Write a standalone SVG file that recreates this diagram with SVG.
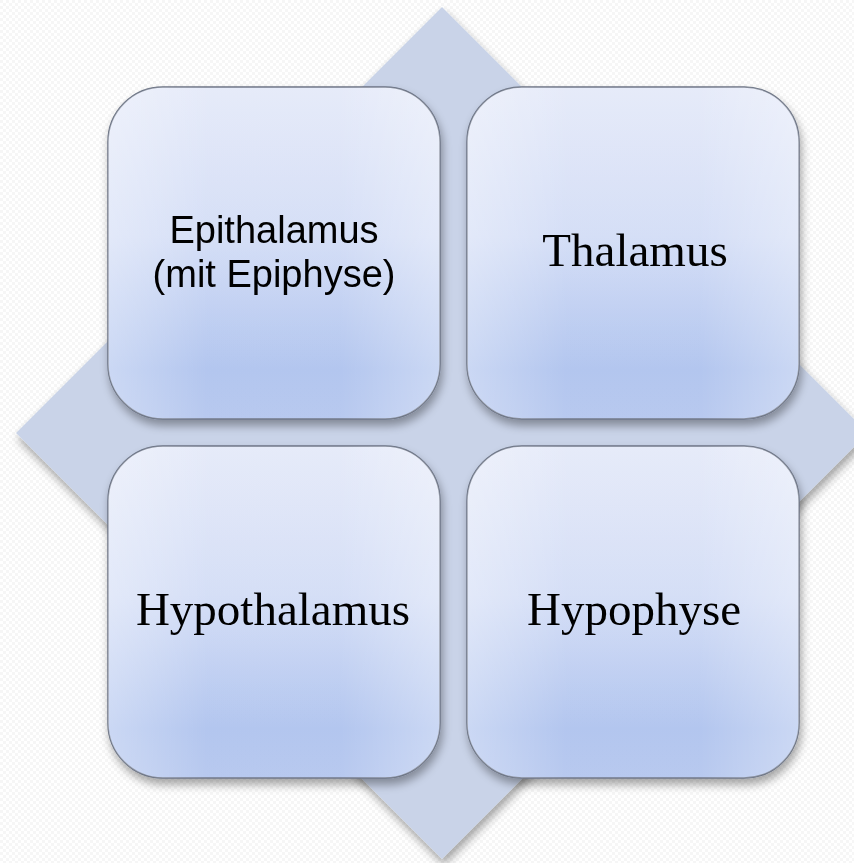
<svg xmlns="http://www.w3.org/2000/svg" width="854" height="863" viewBox="0 0 854 863">
  <defs>
    <pattern id="bgdots" width="6" height="6" patternUnits="userSpaceOnUse">
      <rect width="6" height="6" fill="#ffffff"/>
      <rect x="0" y="0" width="3" height="3" fill="#f6f6f6"/>
      <rect x="3" y="3" width="3" height="3" fill="#f6f6f6"/>
    </pattern>
    <linearGradient id="boxV" x1="0" y1="0" x2="0" y2="1">
      <stop offset="0" stop-color="#e5eaf9"/>
      <stop offset="0.45" stop-color="#d3ddf6"/>
      <stop offset="0.85" stop-color="#afc3ee"/>
      <stop offset="1" stop-color="#b4c6ee"/>
    </linearGradient>
    <linearGradient id="boxH" x1="0" y1="0" x2="1" y2="0">
      <stop offset="0" stop-color="#ffffff" stop-opacity="0.35"/>
      <stop offset="0.3" stop-color="#ffffff" stop-opacity="0.05"/>
      <stop offset="0.7" stop-color="#ffffff" stop-opacity="0.05"/>
      <stop offset="1" stop-color="#ffffff" stop-opacity="0.35"/>
    </linearGradient>
    <filter id="shadow" x="-10%" y="-10%" width="125%" height="125%">
      <feGaussianBlur in="SourceAlpha" stdDeviation="5"/>
      <feOffset dx="2" dy="6" result="b"/>
      <feComponentTransfer><feFuncA type="linear" slope="0.35"/></feComponentTransfer>
      <feMerge><feMergeNode/><feMergeNode in="SourceGraphic"/></feMerge>
    </filter>
    <style>
      .box { fill: url(#boxV); stroke: #6b7384; stroke-width: 1.5; }
      .gloss { fill: url(#boxH); stroke: none; }
      .sans { font-family: "Liberation Sans", Arial, sans-serif; font-size: 38px; fill: #000; text-anchor: middle; }
      .serif { font-family: "Liberation Serif", "Times New Roman", serif; font-size: 47px; fill: #000; text-anchor: middle; }
    </style>
  </defs>
  <rect width="854" height="863" fill="url(#bgdots)"/>
  <g id="diamond">
    <polygon points="442,7 868,433 442,859 16,433" fill="#c9d3e8" filter="url(#shadow)"/>
  </g>
  <g id="epithalamus" filter="url(#shadow)">
    <rect class="box" x="108" y="87" width="332" height="332" rx="55" ry="55"/>
    <rect class="gloss" x="108" y="87" width="332" height="332" rx="55" ry="55"/>
    <text class="sans" x="274" y="243">Epithalamus</text>
    <text class="sans" x="274" y="287">(mit Epiphyse)</text>
  </g>
  <g id="thalamus" filter="url(#shadow)">
    <rect class="box" x="467" y="87" width="332" height="332" rx="55" ry="55"/>
    <rect class="gloss" x="467" y="87" width="332" height="332" rx="55" ry="55"/>
    <text class="serif" x="635" y="266">Thalamus</text>
  </g>
  <g id="hypothalamus" filter="url(#shadow)">
    <rect class="box" x="108" y="446" width="332" height="332" rx="55" ry="55"/>
    <rect class="gloss" x="108" y="446" width="332" height="332" rx="55" ry="55"/>
    <text class="serif" x="273" y="625">Hypothalamus</text>
  </g>
  <g id="hypophyse" filter="url(#shadow)">
    <rect class="box" x="467" y="446" width="332" height="332" rx="55" ry="55"/>
    <rect class="gloss" x="467" y="446" width="332" height="332" rx="55" ry="55"/>
    <text class="serif" x="634" y="625">Hypophyse</text>
  </g>
</svg>
